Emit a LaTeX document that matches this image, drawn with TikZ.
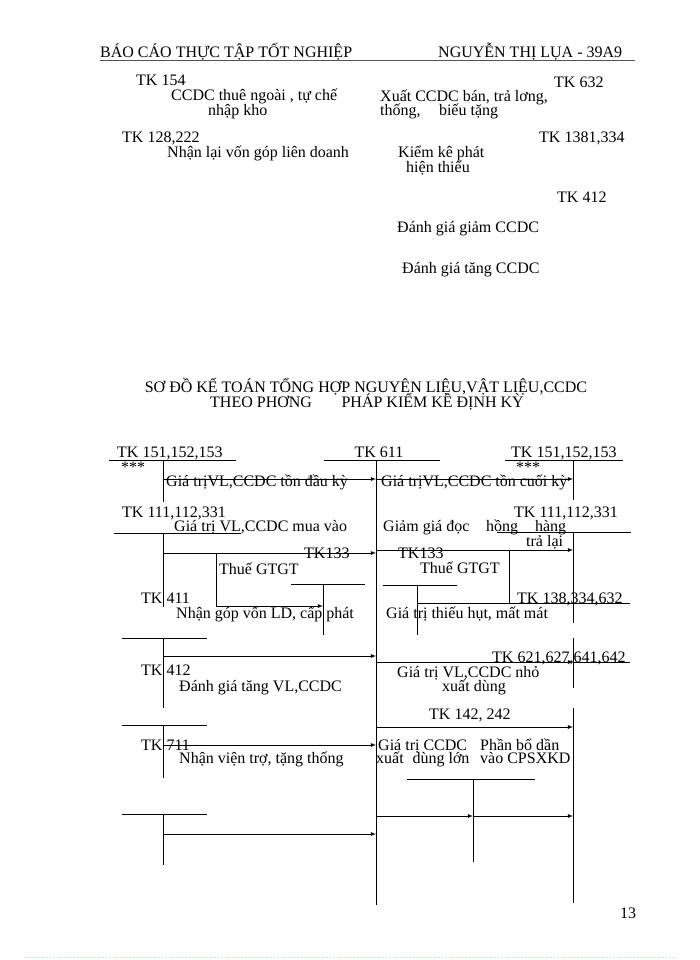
\documentclass[tikz,border=0pt]{standalone}
\usepackage{fontspec}
\setmainfont{Liberation Serif}
\usepackage{tikz}
\usetikzlibrary{arrows}
\definecolor{GachXam}{RGB}{85,80,95}
\definecolor{ChamXanh}{RGB}{185,225,185}

\begin{document}
\begin{tikzpicture}[x=1pt, y=-1pt, font=\fontsize{16}{18}\selectfont,
    lbl/.style={anchor=base west, inner sep=0pt},
    mid/.style={anchor=base, inner sep=0pt},
    ln/.style={line width=0.8pt},
    arr/.style={line width=0.8pt, -latex}]
    \useasboundingbox (0,0) rectangle (700,960);

    \node[lbl] (hdrL) at (100,58) {BÁO CÁO THỰC TẬP TỐT NGHIỆP};
    \node[lbl] (hdrR) at (438,58) {NGUYỄN THỊ LỤA - 39A9};
    \coordinate (ulA) at (100,60);
    \coordinate (ulB) at (635,60);
    \path[ln, GachXam] (ulA) edge (ulB);

    \node[lbl] (tk154)  at (136,86)  {TK 154};
    \node[lbl] (thue)   at (171,101) {CCDC thuê ngoài , tự chế};
    \node[lbl] (nhap)   at (208,116) {nhập kho};
    \node[lbl] (tk128)  at (122,143) {TK 128,222};
    \node[lbl] (nhanlai) at (167,158) {Nhận lại vốn góp liên doanh};
    \node[lbl] (tk632)  at (554,88)  {TK 632};
    \node[lbl] (xuat)   at (380,102) {Xuất CCDC bán, trả lơng,};
    \node[lbl] (thong)  at (380,116) {thống,\hspace{0.9em} biếu tặng};
    \node[lbl] (tk1381) at (539,143) {TK 1381,334};
    \node[lbl] (kiemke) at (398,158) {Kiểm kê phát};
    \node[lbl] (thieu)  at (406,172) {hiện thiếu};
    \node[lbl] (tk412a) at (557,202) {TK 412};
    \node[lbl] (giam)   at (397,232) {Đánh giá giảm CCDC};
    \node[lbl] (tang)   at (402,273) {Đánh giá tăng CCDC};

    \node[mid] (title1) at (366,392) {SƠ ĐỒ KẾ TOÁN TỔNG HỢP NGUYÊN LIỆU,VẬT LIỆU,CCDC};
    \node[mid] (title2) at (367,407) {THEO PHƠNG\hspace{1.6em} PHÁP KIỂM KÊ ĐỊNH KỲ};

    \coordinate (L1a) at (109,460); \coordinate (L1b) at (236,460);
    \coordinate (L1t) at (163,460); \coordinate (L1e) at (163,502);
    \coordinate (M1a) at (324,460); \coordinate (M1b) at (440,460);
    \coordinate (M1t) at (376,460); \coordinate (M1e) at (376,905);
    \coordinate (R1a) at (505,460); \coordinate (R1b) at (623,460);
    \coordinate (R1t) at (573,460); \coordinate (R1e) at (573,500);
    \coordinate (L2a) at (114,533); \coordinate (L2b) at (241,533);
    \coordinate (L2t) at (163,533); \coordinate (L2e) at (163,607);
    \coordinate (R2a) at (497,532); \coordinate (R2b) at (631,532);
    \coordinate (R2t) at (573,532); \coordinate (R2e) at (573,623);
    \coordinate (G1a) at (291,584); \coordinate (G1b) at (365,584);
    \coordinate (G1t) at (323,584); \coordinate (G1e) at (323,635);
    \coordinate (G2a) at (383,585); \coordinate (G2b) at (457,585);
    \coordinate (G2t) at (417,585); \coordinate (G2e) at (417,635);
    \coordinate (H1a) at (417,603); \coordinate (H1b) at (630,603);
    \coordinate (H1k) at (509,550); \coordinate (H1d) at (509,603);
    \coordinate (L3a) at (122,638); \coordinate (L3b) at (207,638);
    \coordinate (L3t) at (163,638); \coordinate (L3e) at (163,708);
    \coordinate (R3b) at (630,662);
    \coordinate (R3t) at (573,638); \coordinate (R3e) at (573,688);
    \coordinate (R4t) at (573,708); \coordinate (R4e) at (573,903);
    \coordinate (L4a) at (122,725); \coordinate (L4b) at (207,725);
    \coordinate (L4t) at (163,725); \coordinate (L4e) at (163,778);
    \coordinate (M2a) at (407,779); \coordinate (M2b) at (535,779);
    \coordinate (M2t) at (473,779); \coordinate (M2e) at (473,862);
    \coordinate (L5a) at (122,814); \coordinate (L5b) at (207,814);
    \coordinate (L5t) at (163,814); \coordinate (L5e) at (163,865);

    \path[ln] (L1a) edge (L1b) (L1t) edge (L1e);
    \path[ln] (M1a) edge (M1b) (M1t) edge (M1e);
    \path[ln] (R1a) edge (R1b) (R1t) edge (R1e);
    \path[ln] (L2a) edge (L2b) (L2t) edge (L2e);
    \path[ln] (R2a) edge (R2b) (R2t) edge (R2e);
    \path[ln] (G1a) edge (G1b) (G1t) edge (G1e);
    \path[ln] (G2a) edge (G2b) (G2t) edge (G2e);
    \path[ln] (H1a) edge (H1b) (H1k) edge (H1d);
    \path[ln] (L3a) edge (L3b) (L3t) edge (L3e);
    \path[ln] (R3t) edge (R3e) (R4t) edge (R4e);
    \path[ln] (L4a) edge (L4b) (L4t) edge (L4e);
    \path[ln] (M2a) edge (M2b) (M2t) edge (M2e);
    \path[ln] (L5a) edge (L5b) (L5t) edge (L5e);

    \coordinate (a1s) at (163,479); \coordinate (a1m) at (376,479); \coordinate (a1e) at (573,479);
    \coordinate (a3s) at (163,553); \coordinate (a3e) at (376,553);
    \coordinate (a4s) at (376,550); \coordinate (a4e) at (573,550);
    \coordinate (a5s) at (216,553); \coordinate (a5e) at (323,606);
    \coordinate (a7s) at (163,656); \coordinate (a7e) at (376,656);
    \coordinate (a8s) at (376,662); \coordinate (a8e) at (573,662);
    \coordinate (a9s) at (376,727); \coordinate (a9e) at (573,727);
    \coordinate (a10s) at (163,745); \coordinate (a10e) at (376,745);
    \coordinate (a11s) at (376,816); \coordinate (a11m) at (473,816); \coordinate (a11e) at (573,816);
    \coordinate (a13s) at (163,834); \coordinate (a13e) at (376,834);

    \path[arr] (a1s) edge (a1m) (a1m) edge (a1e);
    \path[arr] (a3s) edge (a3e) (a4s) edge (a4e);
    \draw[arr] (a5s) |- (a5e);
    \path[arr] (a7s) edge (a7e) (a8s) edge (a8e);
    \path[ln]  (a8e) edge (R3b);
    \path[arr] (a9s) edge (a9e) (a10s) edge (a10e);
    \path[arr] (a11s) edge (a11m) (a11m) edge (a11e);
    \path[arr] (a13s) edge (a13e);

    \node[lbl] (k151L) at (117,457) {TK 151,152,153};
    \node[mid] (k611)  at (379,457) {TK 611};
    \node[lbl] (k151R) at (511,457) {TK 151,152,153};
    \node[mid] (sao1)  at (133,472) {***};
    \node[mid] (sao2)  at (528,472) {***};
    \node[lbl] (tondau) at (166,486) {Giá trịVL,CCDC tồn đầu kỳ};
    \node[lbl] (toncuoi) at (381,486) {Giá trịVL,CCDC tồn cuối kỳ};
    \node[lbl] (k111L) at (122,517) {TK 111,112,331};
    \node[lbl] (muavao) at (174,531) {Giá trị VL,CCDC mua vào};
    \node[lbl] (k111R) at (514,517) {TK 111,112,331};
    \node[lbl] (giamgia) at (383,531) {Giảm giá đọc\hspace{0.8em} hồng\hspace{0.8em} hàng};
    \node[lbl] (tralai) at (526,546) {trả lại};
    \node[lbl] (k133L) at (304,558) {TK133};
    \node[lbl] (k133R) at (398,558) {TK133};
    \node[lbl] (gtgtL) at (219,574) {Thuế GTGT};
    \node[lbl] (gtgtR) at (420,573) {Thuế GTGT};
    \node[lbl] (k411)  at (141,603) {TK 411};
    \node[lbl] (gopvon) at (176,618) {Nhận góp vốn LD, cấp phát};
    \node[lbl] (k138)  at (517,603) {TK 138,334,632};
    \node[lbl] (thieuhut) at (386,618) {Giá trị thiếu hụt, mất mát};
    \node[lbl] (k621)  at (492,662) {TK 621,627,641,642};
    \node[lbl] (k412)  at (141,675) {TK 412};
    \node[lbl] (tangvl) at (179,691) {Đánh giá tăng VL,CCDC};
    \node[lbl] (nho)   at (397,677) {Giá trị VL,CCDC nhỏ};
    \node[lbl] (xdung) at (442,691) {xuất dùng};
    \node[lbl] (k142)  at (429,719) {TK 142, 242};
    \node[lbl] (k711)  at (141,750) {TK 711};
    \node[lbl] (vientro) at (179,763) {Nhận viện trợ, tặng thống};
    \node[lbl] (lon1)  at (378,750) {Giá trị CCDC};
    \node[lbl] (lon2)  at (376,763) {xuất\hspace{0.3em} dùng lớn};
    \node[lbl] (phan1) at (480,750) {Phần bổ dần};
    \node[lbl] (phan2) at (480,763) {vào CPSXKD};

    \node[mid] (trang) at (628,918) {13};
    \coordinate (chA) at (25,957);
    \coordinate (chB) at (675,957);
    \path[ln, ChamXanh, dotted] (chA) edge (chB);
\end{tikzpicture}
\end{document}
